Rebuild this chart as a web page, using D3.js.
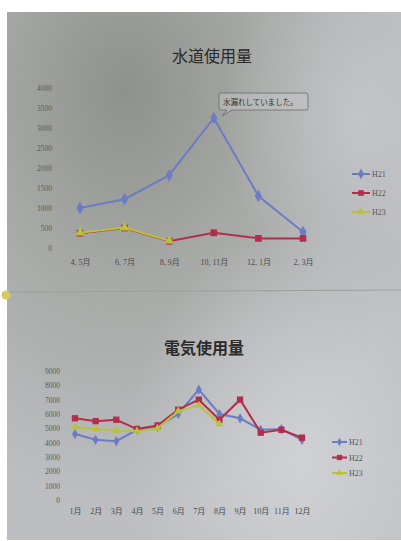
<!DOCTYPE html>
<html>
<head>
<meta charset="utf-8">
<script src="https://cdn.jsdelivr.net/npm/d3@7"></script>
<style>
  body { margin: 0; background: #fff; }
  svg { display: block; }
</style>
</head>
<body>
<svg id="page" width="401" height="541"></svg>
<script>
// water chart (水道使用量)
var waterMonths = ["4, 5月", "6, 7月", "8, 9月", "10, 11月", "12, 1月", "2, 3月"];
var waterH21 = [1000, 1220, 1820, 3250, 1300, 400];
var waterH22 = [370, 500, 170, 380, 240, 240];
var waterH23 = [380, 510, 180];
var waterTicks = [0, 500, 1000, 1500, 2000, 2500, 3000, 3500, 4000];

// electricity chart (電気使用量)
var elecMonths = ["1月", "2月", "3月", "4月", "5月", "6月", "7月", "8月", "9月", "10月", "11月", "12月"];
var elecH21 = [4600, 4200, 4100, 4900, 5100, 6000, 7700, 6000, 5700, 4900, 4950, 4200];
var elecH22 = [5700, 5500, 5600, 4950, 5200, 6300, 7000, 5600, 7000, 4700, 4900, 4350];
var elecH23 = [5100, 4950, 4850, 4800, 5000, 6200, 6600, 5300];
var elecTicks = [0, 1000, 2000, 3000, 4000, 5000, 6000, 7000, 8000, 9000];

var seriesNames = ["H21", "H22", "H23"];
var colors = { H21: "#6c7cc4", H22: "#b22e4c", H23: "#b9c23c" };
var shapes = { H21: d3.symbolDiamond, H22: d3.symbolSquare, H23: d3.symbolTriangle };

var svg = d3.select("#page");
var font = "'Liberation Serif', 'Noto Sans CJK JP', serif";

// paper background with photo shading
var defs = svg.append("defs");
var g1 = defs.append("radialGradient").attr("id", "shade")
  .attr("cx", "0.3").attr("cy", "0.15").attr("r", "0.8");
g1.append("stop").attr("offset", "0").attr("stop-color", "#8f918d");
g1.append("stop").attr("offset", "0.45").attr("stop-color", "#a7a9a6");
g1.append("stop").attr("offset", "1").attr("stop-color", "#bcbec2");
var g2 = defs.append("radialGradient").attr("id", "light")
  .attr("cx", "0.75").attr("cy", "0.85").attr("r", "0.45");
g2.append("stop").attr("offset", "0").attr("stop-color", "#d2d3d6").attr("stop-opacity", 0.9);
g2.append("stop").attr("offset", "1").attr("stop-color", "#d2d3d6").attr("stop-opacity", 0);
var g3 = defs.append("radialGradient").attr("id", "light2")
  .attr("cx", "0.9").attr("cy", "0.2").attr("r", "0.35");
g3.append("stop").attr("offset", "0").attr("stop-color", "#c6c8cc").attr("stop-opacity", 0.8);
g3.append("stop").attr("offset", "1").attr("stop-color", "#c6c8cc").attr("stop-opacity", 0);

svg.append("rect").attr("x", 7).attr("y", 12).attr("width", 394).attr("height", 528)
  .attr("fill", "url(#shade)");
svg.append("rect").attr("x", 7).attr("y", 12).attr("width", 394).attr("height", 528)
  .attr("fill", "url(#light)");
svg.append("rect").attr("x", 7).attr("y", 12).attr("width", 394).attr("height", 528)
  .attr("fill", "url(#light2)");
// fold line and binder hole
svg.append("line").attr("x1", 7).attr("x2", 401).attr("y1", 292).attr("y2", 290)
  .attr("stroke", "#9c9e9c").attr("stroke-width", 1);
svg.append("circle").attr("cx", 6).attr("cy", 295).attr("r", 4.5).attr("fill", "#d8c860");

function drawChart(opt) {
  var g = svg.append("g");
  var x = d3.scalePoint().domain(opt.months).range(opt.xRange);
  var y = d3.scaleLinear().domain([0, opt.yMax]).range(opt.yRange);

  g.append("text").attr("x", opt.titleX).attr("y", opt.titleY)
    .attr("text-anchor", "middle")
    .attr("font-family", "'Noto Sans CJK JP', sans-serif")
    .attr("font-size", 16).attr("font-weight", opt.titleWeight)
    .attr("fill", "#2a2a2a")
    .text(opt.title);

  var yAxis = d3.axisLeft(y).tickValues(opt.ticks).tickFormat(d3.format("d"))
    .tickSize(0).tickPadding(0);
  var ya = g.append("g").attr("transform", "translate(" + opt.yLabelX + ",0)").call(yAxis);
  ya.select(".domain").remove();
  ya.selectAll("text").attr("font-family", font).attr("font-size", 7.5).attr("fill", "#5a5a5a");

  var xAxis = d3.axisBottom(x).tickSize(0).tickPadding(0);
  var xa = g.append("g").attr("transform", "translate(0," + opt.xLabelY + ")").call(xAxis);
  xa.select(".domain").remove();
  xa.selectAll("text").attr("font-family", font).attr("font-size", 8).attr("fill", "#4a4a4a");

  var line = d3.line().x(function(d, i) { return x(opt.months[i]); }).y(function(d) { return y(d); });

  // H23 is printed on top of H22
  seriesNames.forEach(function(name) {
    var vals = opt.series[name];
    g.append("path").datum(vals).attr("d", line)
      .attr("fill", "none").attr("stroke", colors[name]).attr("stroke-width", 2);
    g.selectAll(".m" + name).data(vals).enter().append("path")
      .attr("transform", function(d, i) { return "translate(" + x(opt.months[i]) + "," + y(d) + ")"; })
      .attr("d", d3.symbol().type(shapes[name]).size(opt.markSize[name]))
      .attr("fill", colors[name]);
  });

  // legend
  seriesNames.forEach(function(name, i) {
    var ly = opt.legendY + i * opt.legendStep;
    g.append("line").attr("x1", opt.legendX).attr("x2", opt.legendX + opt.legendLen)
      .attr("y1", ly).attr("y2", ly).attr("stroke", colors[name]).attr("stroke-width", 2);
    g.append("path").attr("transform", "translate(" + (opt.legendX + opt.legendLen / 2) + "," + ly + ")")
      .attr("d", d3.symbol().type(shapes[name]).size(opt.markSize[name] * 0.7))
      .attr("fill", colors[name]);
    g.append("text").attr("x", opt.legendX + opt.legendLen + 2).attr("y", ly + 3)
      .attr("font-family", font).attr("font-size", 8).attr("fill", "#555")
      .text(name);
  });
  return { g: g, x: x, y: y };
}

var water = drawChart({
  title: "水道使用量", titleX: 212, titleY: 62, titleWeight: "normal",
  months: waterMonths, xRange: [80, 303], yMax: 4000, yRange: [248, 88],
  ticks: waterTicks, yLabelX: 52, xLabelY: 259,
  series: { H21: waterH21, H22: waterH22, H23: waterH23 },
  markSize: { H21: 45, H22: 45, H23: 40 },
  legendX: 352, legendY: 174, legendStep: 19, legendLen: 18
});

// callout
var cb = water.g.append("g");
cb.append("path")
  .attr("d", "M221,93 H306 Q308,93 308,95 V108 Q308,110 306,110 H232 L222,116 L227,110 H221 Q219,110 219,108 V95 Q219,93 221,93 Z")
  .attr("fill", "#c4c6c8").attr("fill-opacity", 0.5)
  .attr("stroke", "#6a6a6a").attr("stroke-width", 0.8);
cb.append("text").attr("x", 223).attr("y", 104.5)
  .attr("font-family", "'Noto Sans CJK JP', sans-serif").attr("font-size", 7.5).attr("fill", "#333")
  .text("水漏れしていました。");

drawChart({
  title: "電気使用量", titleX: 204, titleY: 354, titleWeight: "bold",
  months: elecMonths, xRange: [75, 302], yMax: 9000, yRange: [500, 371],
  ticks: elecTicks, yLabelX: 60, xLabelY: 508,
  series: { H21: elecH21, H22: elecH22, H23: elecH23 },
  markSize: { H21: 30, H22: 40, H23: 28 },
  legendX: 332, legendY: 442, legendStep: 15.5, legendLen: 15
});
</script>
</body>
</html>
